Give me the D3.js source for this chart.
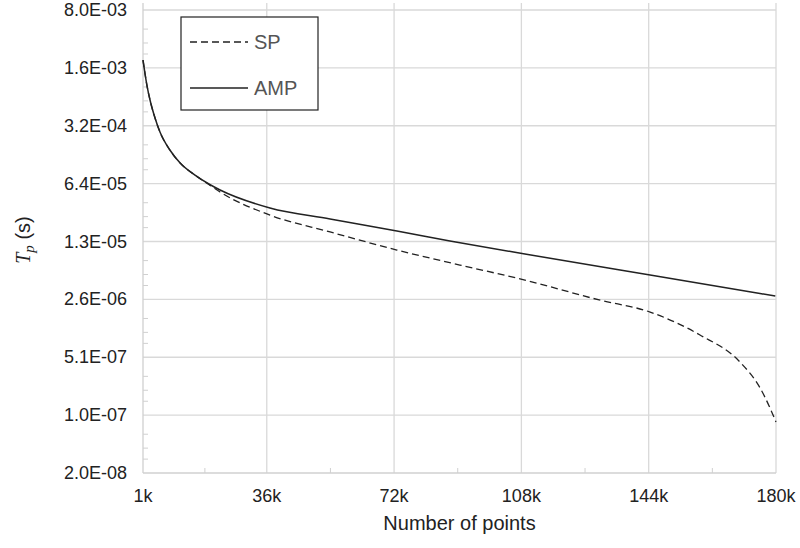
<!DOCTYPE html><html><head><meta charset="utf-8"><script src="https://cdn.jsdelivr.net/npm/d3@7"></script>
<style>body{margin:0;background:#fff}text{font-family:"Liberation Sans",Arial,sans-serif;fill:#222}</style></head><body><svg id="c" width="800" height="548"></svg><script>
const xTicks=[1,36,72,108,144,180];
const xTickLabels=["1k","36k","72k","108k","144k","180k"];
const yTicks=[8e-3,1.6e-3,3.2e-4,6.4e-5,1.28e-5,2.56e-6,5.12e-7,1.024e-7,2.048e-8];
const yTickLabels=["8.0E-03","1.6E-03","3.2E-04","6.4E-05","1.3E-05","2.6E-06","5.1E-07","1.0E-07","2.0E-08"];
const ampK=[1,2.1,3,4.4,5.8,8.6,11.5,15.7,20,22.8,36.9,53.9,72.8,87.8,109,144.4,179.8];
const ampV=[1.99e-3,9.9e-4,6.5e-4,3.97e-4,2.69e-4,1.63e-4,1.135e-4,8.1e-5,6.2e-5,5.36e-5,3.25e-5,2.39e-5,1.71e-5,1.3e-5,9.04e-6,5.03e-6,2.81e-6];
const spK=[1,2.1,3,4.4,5.8,8.6,11.5,15.7,20,22.8,36.9,53.9,72.8,90.6,109,130,144.4,158.5,169.8,175.5,178.3,180];
const spV=[1.99e-3,9.9e-4,6.5e-4,3.97e-4,2.69e-4,1.63e-4,1.135e-4,8.1e-5,6.1e-5,5.07e-5,2.67e-5,1.67e-5,1.01e-5,6.65e-6,4.38e-6,2.52e-6,1.8e-6,9.5e-7,4.49e-7,2.18e-7,1.25e-7,8.45e-8];
const svg=d3.select("#c");
const L=143,R=776,T=10,B=473;
const x=d3.scaleLinear().domain([1,180]).range([L,R]);
const y=d3.scaleLog().domain([2.048e-8,8e-3]).range([B,T]);
const g=svg.append("g");
g.selectAll(".gx").data(xTicks.slice(1)).join("line").attr("x1",d=>x(d)).attr("x2",d=>x(d)).attr("y1",3).attr("y2",B).attr("stroke","#d9d9d9").attr("stroke-width",1.3);
g.selectAll(".gy").data(yTicks.slice(0,-1)).join("line").attr("x1",L).attr("x2",R).attr("y1",d=>y(d)).attr("y2",d=>y(d)).attr("stroke","#d9d9d9").attr("stroke-width",1.3);
g.append("line").attr("x1",L).attr("x2",L).attr("y1",3).attr("y2",B).attr("stroke","#d0d0d0").attr("stroke-width",1.3);
g.append("line").attr("x1",L).attr("x2",R).attr("y1",B).attr("y2",B).attr("stroke","#d0d0d0").attr("stroke-width",1.3);
const fr=[0.33,0.57,0.76];
yTicks.slice(0,-1).forEach(t=>fr.forEach(f=>{g.append("line").attr("x1",L).attr("x2",L+5).attr("y1",y(t/Math.pow(5,f))).attr("y2",y(t/Math.pow(5,f))).attr("stroke","#d0d0d0");}));
xTicks.slice(0,-1).forEach((t,i)=>{const m=(t+xTicks[i+1])/2;g.append("line").attr("x1",x(m)).attr("x2",x(m)).attr("y1",B).attr("y2",B-5).attr("stroke","#d0d0d0");});
g.selectAll(".xl").data(xTicks).join("text").attr("x",d=>x(d)).attr("y",B+29).attr("text-anchor","middle").attr("font-size",18).text((d,i)=>xTickLabels[i]);
g.selectAll(".yl").data(yTicks).join("text").attr("x",127).attr("y",d=>y(d)+6).attr("text-anchor","end").attr("font-size",18).text((d,i)=>yTickLabels[i]);
svg.append("text").attr("x",(L+R)/2).attr("y",530).attr("text-anchor","middle").attr("font-size",20).text("Number of points");
const yl=svg.append("text").attr("transform","translate(30,240) rotate(-90)").attr("text-anchor","middle").attr("font-size",20);
yl.append("tspan").attr("font-family","Liberation Serif,serif").attr("font-style","italic").text("T");
yl.append("tspan").attr("font-family","Liberation Serif,serif").attr("font-style","italic").attr("font-size",15).attr("dy",4).text("p");
yl.append("tspan").attr("dy",-4).text(" (s)");
const line=d3.line().x(d=>x(d[0])).y(d=>y(d[1])).curve(d3.curveMonotoneX);
svg.append("path").attr("d",line(ampK.map((k,i)=>[k,ampV[i]]))).attr("fill","none").attr("stroke","#222").attr("stroke-width",1.5);
svg.append("path").attr("d",line(spK.map((k,i)=>[k,spV[i]]))).attr("fill","none").attr("stroke","#222").attr("stroke-width",1.3).attr("stroke-dasharray","7,4");
const lg=svg.append("g");
lg.append("rect").attr("x",181).attr("y",17).attr("width",137).attr("height",93).attr("fill","#fff").attr("stroke","#222").attr("stroke-width",1.2);
lg.append("line").attr("x1",190).attr("x2",248).attr("y1",42).attr("y2",42).attr("stroke","#222").attr("stroke-width",1.3).attr("stroke-dasharray","7,4");
lg.append("line").attr("x1",190).attr("x2",248).attr("y1",88).attr("y2",88).attr("stroke","#222").attr("stroke-width",1.5);
lg.append("text").attr("x",254).attr("y",49).attr("font-size",20).style("fill","#555").text("SP");
lg.append("text").attr("x",254).attr("y",95).attr("font-size",20).style("fill","#555").text("AMP");
</script></body></html>
